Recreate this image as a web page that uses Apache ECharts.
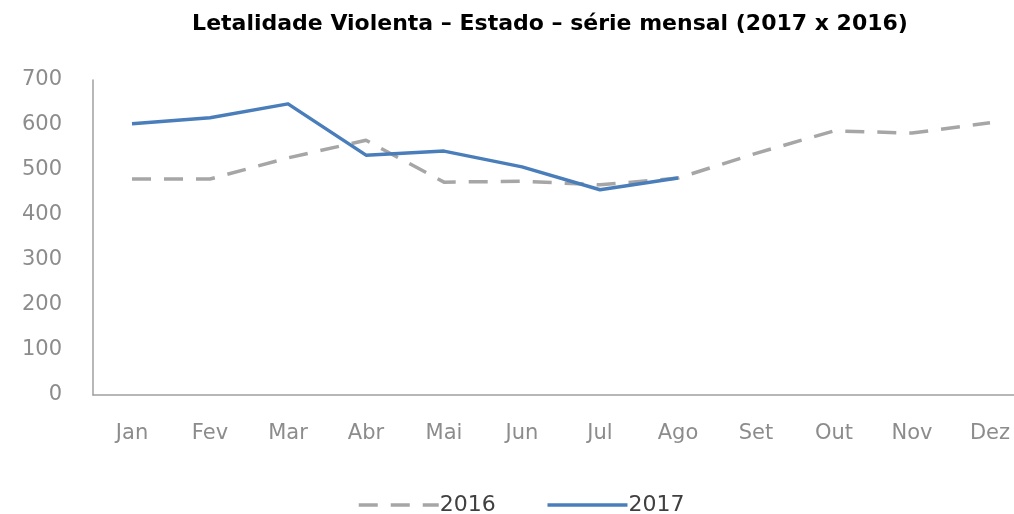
<!DOCTYPE html>
<html>
<head>
<meta charset="utf-8">
<script src="https://cdn.jsdelivr.net/npm/echarts@6/dist/echarts.min.js"></script>
<style>
html,body{margin:0;padding:0;background:#fff;}
#chart{width:1014px;height:514px;}
</style>
</head>
<body>
<div id="chart"></div>
<script>
const months = ['Jan','Fev','Mar','Abr','Mai','Jun','Jul','Ago','Set','Out','Nov','Dez'];
const serie2016 = [480, 480, 527, 566, 473, 475, 467, 482, 537, 587, 582, 605];
const serie2017 = [603, 616, 647, 533, 542, 507, 456, 482];
const yTicks = [0, 100, 200, 300, 400, 500, 600, 700];
const titleText = 'Letalidade Violenta – Estado – série mensal (2017 x 2016)';

const chart = echarts.init(document.getElementById('chart'), null, {renderer:'canvas'});
chart.setOption({
  animation: false,
  backgroundColor: '#ffffff',
  title: {
    text: titleText,
    left: 545,
    top: 8,
    textAlign: 'center',
    textStyle: {fontFamily: 'DejaVu Sans', fontWeight: 'bold', fontSize: 22, color: '#000000'}
  },
  legend: {
    top: 489,
    left: 352,
    itemWidth: 80,
    itemHeight: 14,
    itemGap: 50,
    data: ['2016', '2017'],
    itemStyle: {opacity: 0},
    lineStyle: {width: 3.5},
    textStyle: {fontFamily: 'DejaVu Sans', fontSize: 22, color: '#404040', padding: [0,0,0,-4]}
  },
  grid: {left: 93, top: 80, bottom: 119, right: -15, outerBoundsMode: 'none', containLabel: false},
  xAxis: {
    type: 'category',
    data: months,
    boundaryGap: true,
    axisLine: {show: true, lineStyle: {color: '#a0a0a0', width: 1.5}},
    axisTick: {show: false},
    axisLabel: {fontFamily: 'DejaVu Sans', fontSize: 21, color: '#8c8c8c', margin: 28, interval: 0},
    splitLine: {show: false}
  },
  yAxis: {
    type: 'value',
    min: yTicks[0],
    max: yTicks[yTicks.length-1],
    interval: 100,
    axisLine: {show: true, lineStyle: {color: '#a0a0a0', width: 1.5}},
    axisTick: {show: false},
    splitLine: {show: false},
    axisLabel: {fontFamily: 'DejaVu Sans', fontSize: 21, color: '#8c8c8c', margin: 31}
  },
  series: [
    {
      name: '2016',
      type: 'line',
      data: serie2016,
      symbol: 'none',
      lineStyle: {color: '#a6a6a6', width: 3.5, type: [19, 13], join: 'round'},
      itemStyle: {color: '#a6a6a6'},
      z: 2
    },
    {
      name: '2017',
      type: 'line',
      data: serie2017,
      symbol: 'none',
      lineStyle: {color: '#4a7ebb', width: 3.5, join: 'round'},
      itemStyle: {color: '#4a7ebb'},
      z: 3
    }
  ]
});
</script>
</body>
</html>
